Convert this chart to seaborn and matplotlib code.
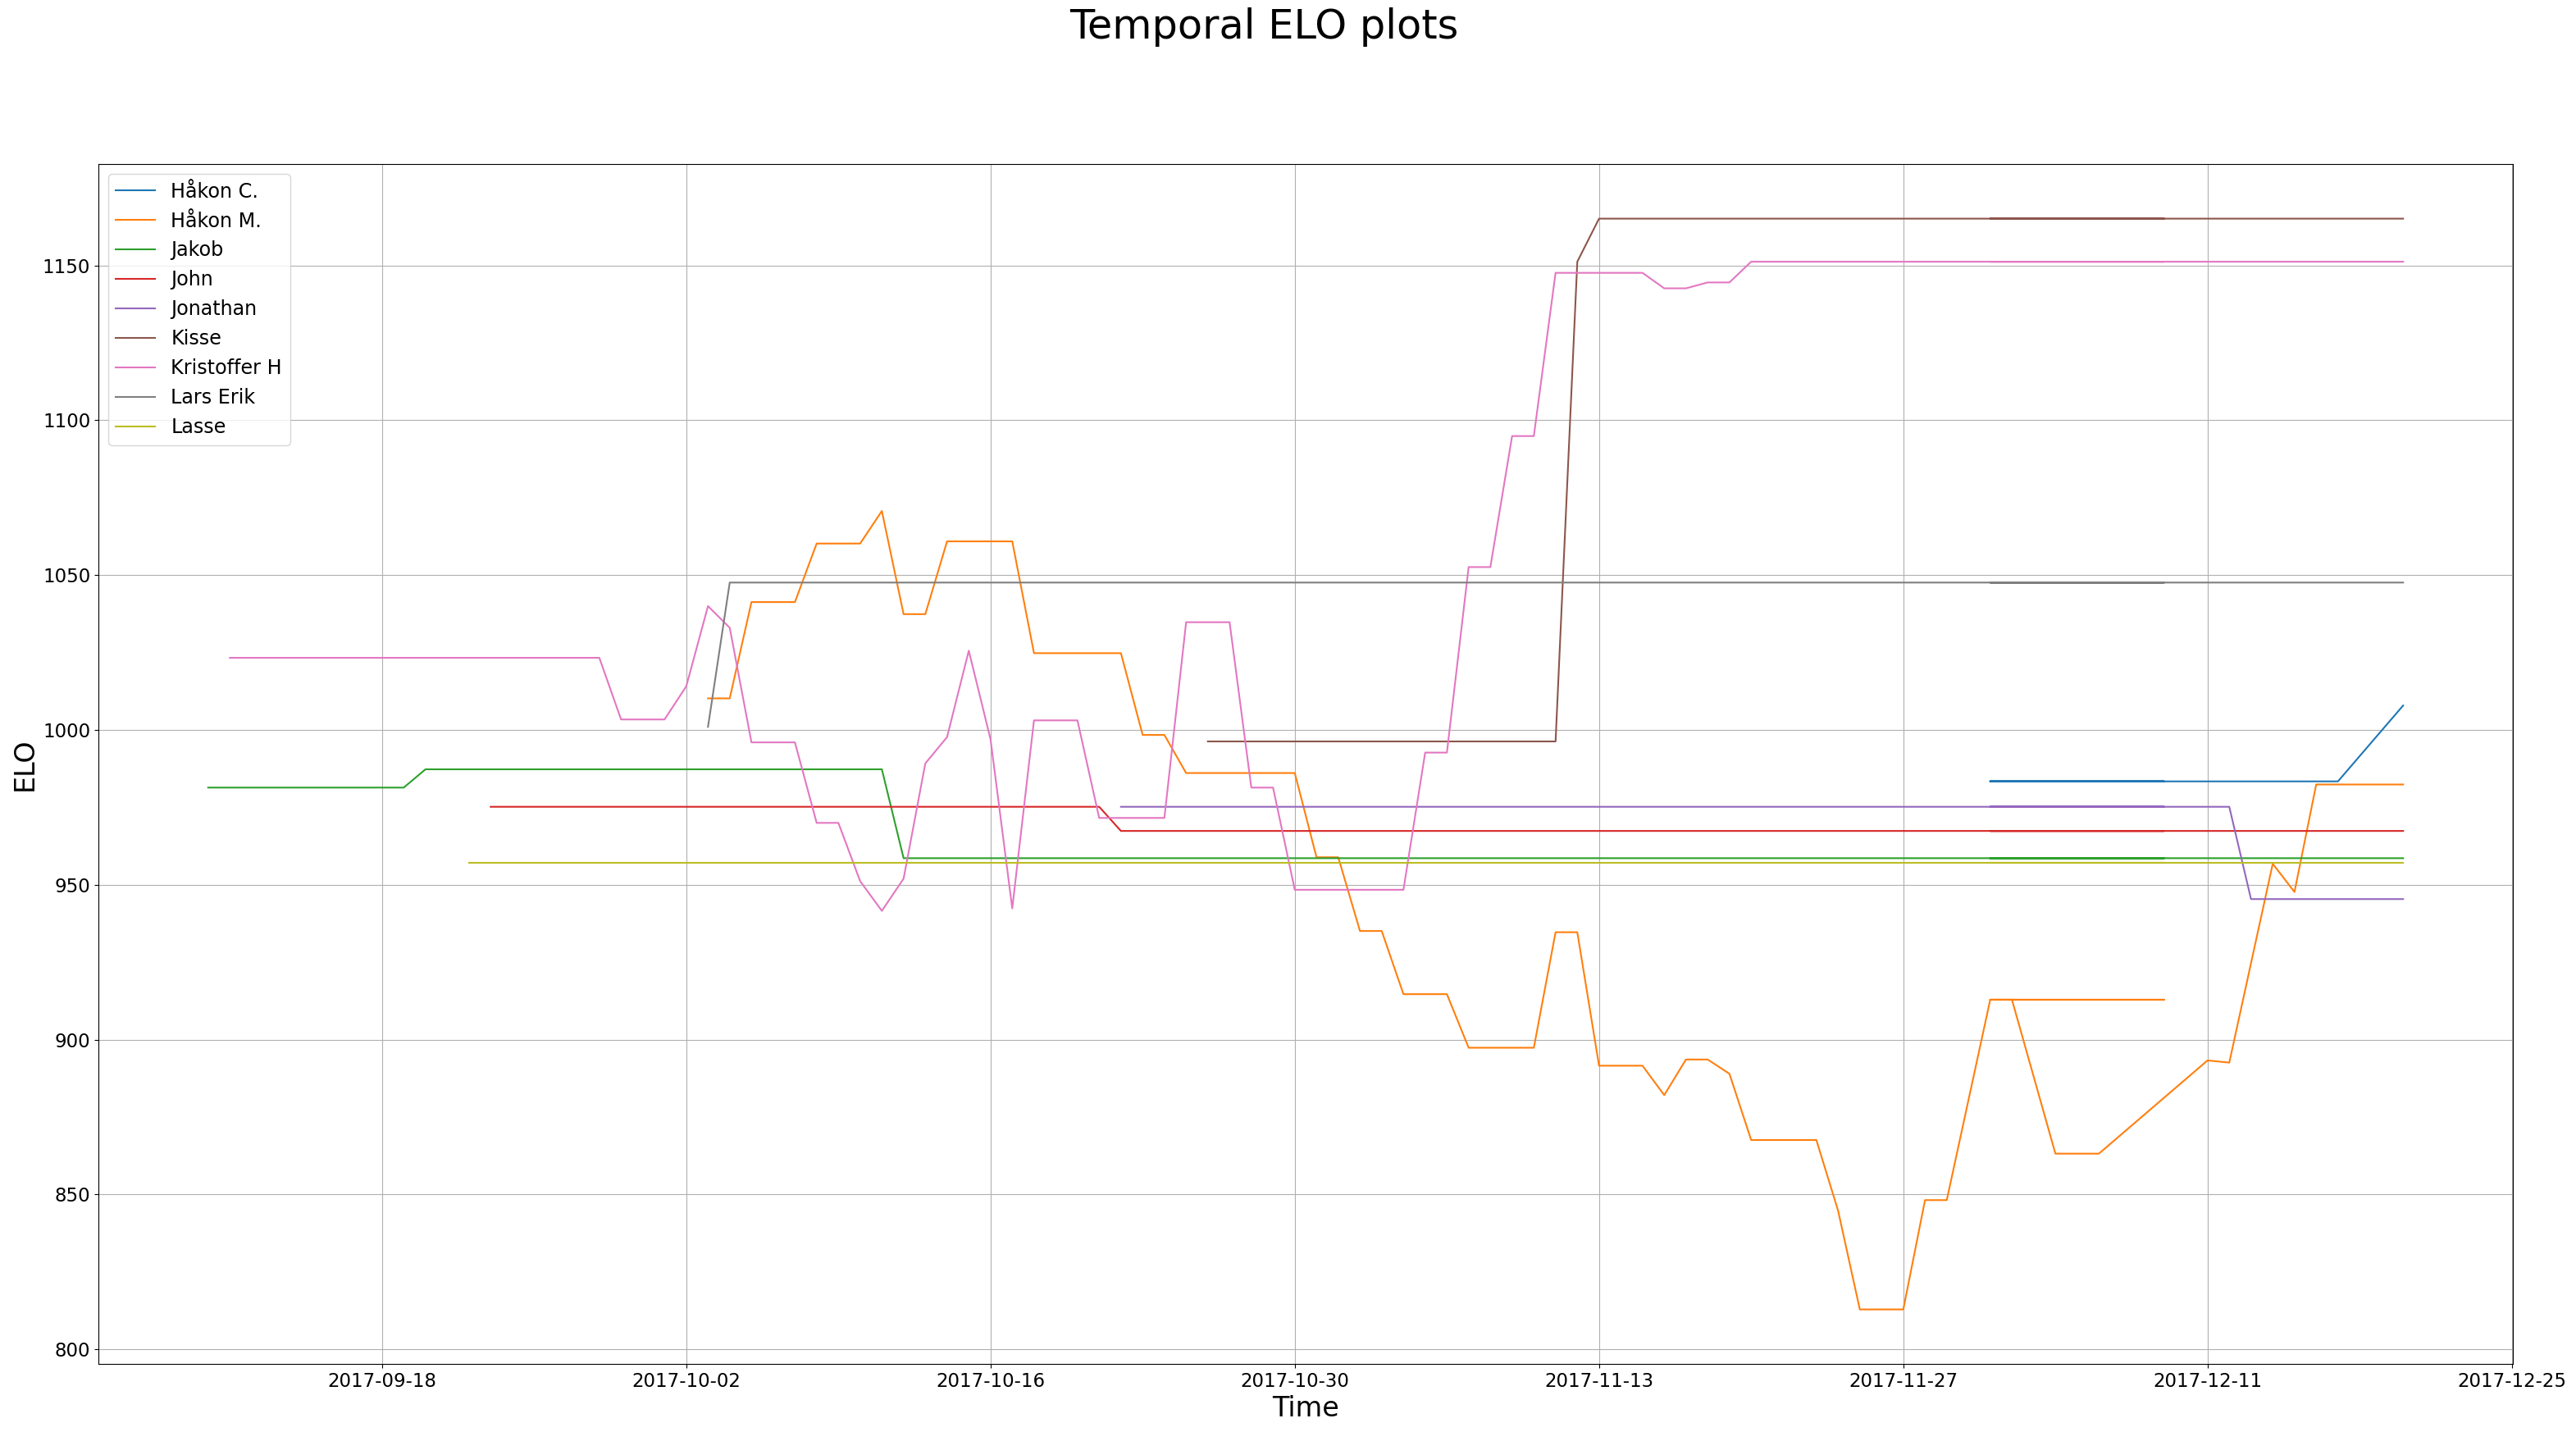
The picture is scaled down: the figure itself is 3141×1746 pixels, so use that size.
import pandas as pd
import matplotlib
matplotlib.use("Agg")
import matplotlib.pyplot as plt
import matplotlib.dates as mdates
import seaborn as sns

# ---------------------------------------------------
# data (date -> ELO)
# every series jumps 12-01 -> 12-09 -> back to 12-01, so that stretch
# is drawn twice like in the original
# ---------------------------------------------------
PLAYERS = ["Håkon C.", "Håkon M.", "Jakob", "John", "Jonathan",
           "Kisse", "Kristoffer H", "Lars Erik", "Lasse"]

hakon_c_dates = ["2017-12-01", "2017-12-09", "2017-12-01", "2017-12-17", "2017-12-20"]
hakon_c_elo = [983.4, 983.4, 983.4, 983.4, 1007.9]

hakon_m_dates = ["2017-10-03", "2017-10-04", "2017-10-05", "2017-10-07", "2017-10-08",
                 "2017-10-10", "2017-10-11", "2017-10-12", "2017-10-13", "2017-10-14",
                 "2017-10-17", "2017-10-18", "2017-10-22", "2017-10-23", "2017-10-24",
                 "2017-10-25", "2017-10-30", "2017-10-31", "2017-11-01", "2017-11-02",
                 "2017-11-03", "2017-11-04", "2017-11-06", "2017-11-07", "2017-11-10",
                 "2017-11-11", "2017-11-12", "2017-11-13", "2017-11-15", "2017-11-16",
                 "2017-11-17", "2017-11-18", "2017-11-19", "2017-11-20", "2017-11-23",
                 "2017-11-24", "2017-11-25", "2017-11-27", "2017-11-28", "2017-11-29",
                 "2017-12-01", "2017-12-09", "2017-12-01", "2017-12-02", "2017-12-04",
                 "2017-12-06", "2017-12-11", "2017-12-12", "2017-12-14", "2017-12-15",
                 "2017-12-16", "2017-12-20"]
hakon_m_elo = [1010.2, 1010.2, 1041.3, 1041.3, 1060.2,
               1060.2, 1070.7, 1037.4, 1037.4, 1060.9,
               1060.9, 1024.8, 1024.8, 998.4, 998.4,
               986.1, 986.1, 958.9, 958.9, 935.1,
               935.1, 914.7, 914.7, 897.4, 897.4,
               934.7, 934.7, 891.6, 891.6, 882.1,
               893.6, 893.6, 889.0, 867.6, 867.6,
               844.8, 812.9, 812.9, 848.2, 848.2,
               912.9, 912.9, 912.9, 912.9, 863.2,
               863.2, 893.3, 892.6, 956.8, 947.7,
               982.4, 982.4]

jakob_dates = ["2017-09-10", "2017-09-19", "2017-09-20", "2017-10-11", "2017-10-12",
               "2017-12-01", "2017-12-09", "2017-12-01", "2017-12-20"]
jakob_elo = [981.4, 981.4, 987.3, 987.3, 958.6, 958.6, 958.6, 958.6, 958.6]

john_dates = ["2017-09-23", "2017-10-21", "2017-10-22",
              "2017-12-01", "2017-12-09", "2017-12-01", "2017-12-20"]
john_elo = [975.2, 975.2, 967.4, 967.4, 967.4, 967.4, 967.4]

jonathan_dates = ["2017-10-22", "2017-12-01", "2017-12-09", "2017-12-01",
                  "2017-12-12", "2017-12-13", "2017-12-20"]
jonathan_elo = [975.2, 975.2, 975.2, 975.2, 975.2, 945.4, 945.4]

kisse_dates = ["2017-10-26", "2017-11-11", "2017-11-12", "2017-11-13",
               "2017-12-01", "2017-12-09", "2017-12-01", "2017-12-20"]
kisse_elo = [996.3, 996.3, 1151.2, 1165.1, 1165.1, 1165.1, 1165.1, 1165.1]

kristoffer_dates = ["2017-09-11", "2017-09-28", "2017-09-29", "2017-10-01", "2017-10-02",
                    "2017-10-03", "2017-10-04", "2017-10-05", "2017-10-07", "2017-10-08",
                    "2017-10-09", "2017-10-10", "2017-10-11", "2017-10-12", "2017-10-13",
                    "2017-10-14", "2017-10-15", "2017-10-16", "2017-10-17", "2017-10-18",
                    "2017-10-20", "2017-10-21", "2017-10-24", "2017-10-25", "2017-10-27",
                    "2017-10-28", "2017-10-29", "2017-10-30", "2017-11-04", "2017-11-05",
                    "2017-11-06", "2017-11-07", "2017-11-08", "2017-11-09", "2017-11-10",
                    "2017-11-11", "2017-11-15", "2017-11-16", "2017-11-17", "2017-11-18",
                    "2017-11-19", "2017-11-20", "2017-12-01", "2017-12-09", "2017-12-01",
                    "2017-12-20"]
kristoffer_elo = [1023.3, 1023.3, 1003.4, 1003.4, 1014.1,
                  1040.0, 1033.0, 996.0, 996.0, 970.0,
                  970.0, 951.2, 941.6, 952.0, 989.2,
                  997.7, 1025.6, 997.0, 942.4, 1003.1,
                  1003.1, 971.6, 971.6, 1034.8, 1034.8,
                  981.4, 981.4, 948.4, 948.4, 992.7,
                  992.7, 1052.6, 1052.6, 1094.9, 1094.9,
                  1147.6, 1147.6, 1142.6, 1142.6, 1144.5,
                  1144.5, 1151.2, 1151.2, 1151.2, 1151.2,
                  1151.2]

lars_erik_dates = ["2017-10-03", "2017-10-04", "2017-12-01", "2017-12-09",
                   "2017-12-01", "2017-12-20"]
lars_erik_elo = [1001.0, 1047.6, 1047.6, 1047.6, 1047.6, 1047.6]

lasse_dates = ["2017-09-22", "2017-12-01", "2017-12-09", "2017-12-01", "2017-12-20"]
lasse_elo = [957.1, 957.1, 957.1, 957.1, 957.1]

TICK_DATES = ["2017-09-18", "2017-10-02", "2017-10-16", "2017-10-30",
              "2017-11-13", "2017-11-27", "2017-12-11", "2017-12-25"]

SERIES = [
    (hakon_c_dates, hakon_c_elo),
    (hakon_m_dates, hakon_m_elo),
    (jakob_dates, jakob_elo),
    (john_dates, john_elo),
    (jonathan_dates, jonathan_elo),
    (kisse_dates, kisse_elo),
    (kristoffer_dates, kristoffer_elo),
    (lars_erik_dates, lars_erik_elo),
    (lasse_dates, lasse_elo),
]


def main():
    fig = plt.figure(figsize=(31.41, 17.46), dpi=100)
    ax = fig.add_axes([0.0382, 0.0475, 0.9373, 0.8379])

    palette = sns.color_palette("tab10", len(PLAYERS))

    for name, (dates, elo), color in zip(PLAYERS, SERIES, palette):
        df = pd.DataFrame({"time": pd.to_datetime(dates), "elo": elo})
        # sort=False keeps the back-and-forth order of the points
        sns.lineplot(data=df, x="time", y="elo", sort=False, estimator=None,
                     color=color, linewidth=1.5, label=name, ax=ax)

    ax.set_xticks(pd.to_datetime(TICK_DATES))
    ax.xaxis.set_major_formatter(mdates.DateFormatter("%Y-%m-%d"))
    ax.tick_params(axis="both", labelsize=16.5)
    ax.grid(True)

    ax.set_xlabel("Time", fontsize=24)
    ax.set_ylabel("ELO", fontsize=24)
    ax.legend(loc="upper left", fontsize=17.2)

    fig.suptitle("Temporal ELO plots", fontsize=35.6, x=0.4906, y=0.981, va="center")

    fig.savefig("out.png", dpi=100)
    plt.close(fig)


if __name__ == "__main__":
    main()
